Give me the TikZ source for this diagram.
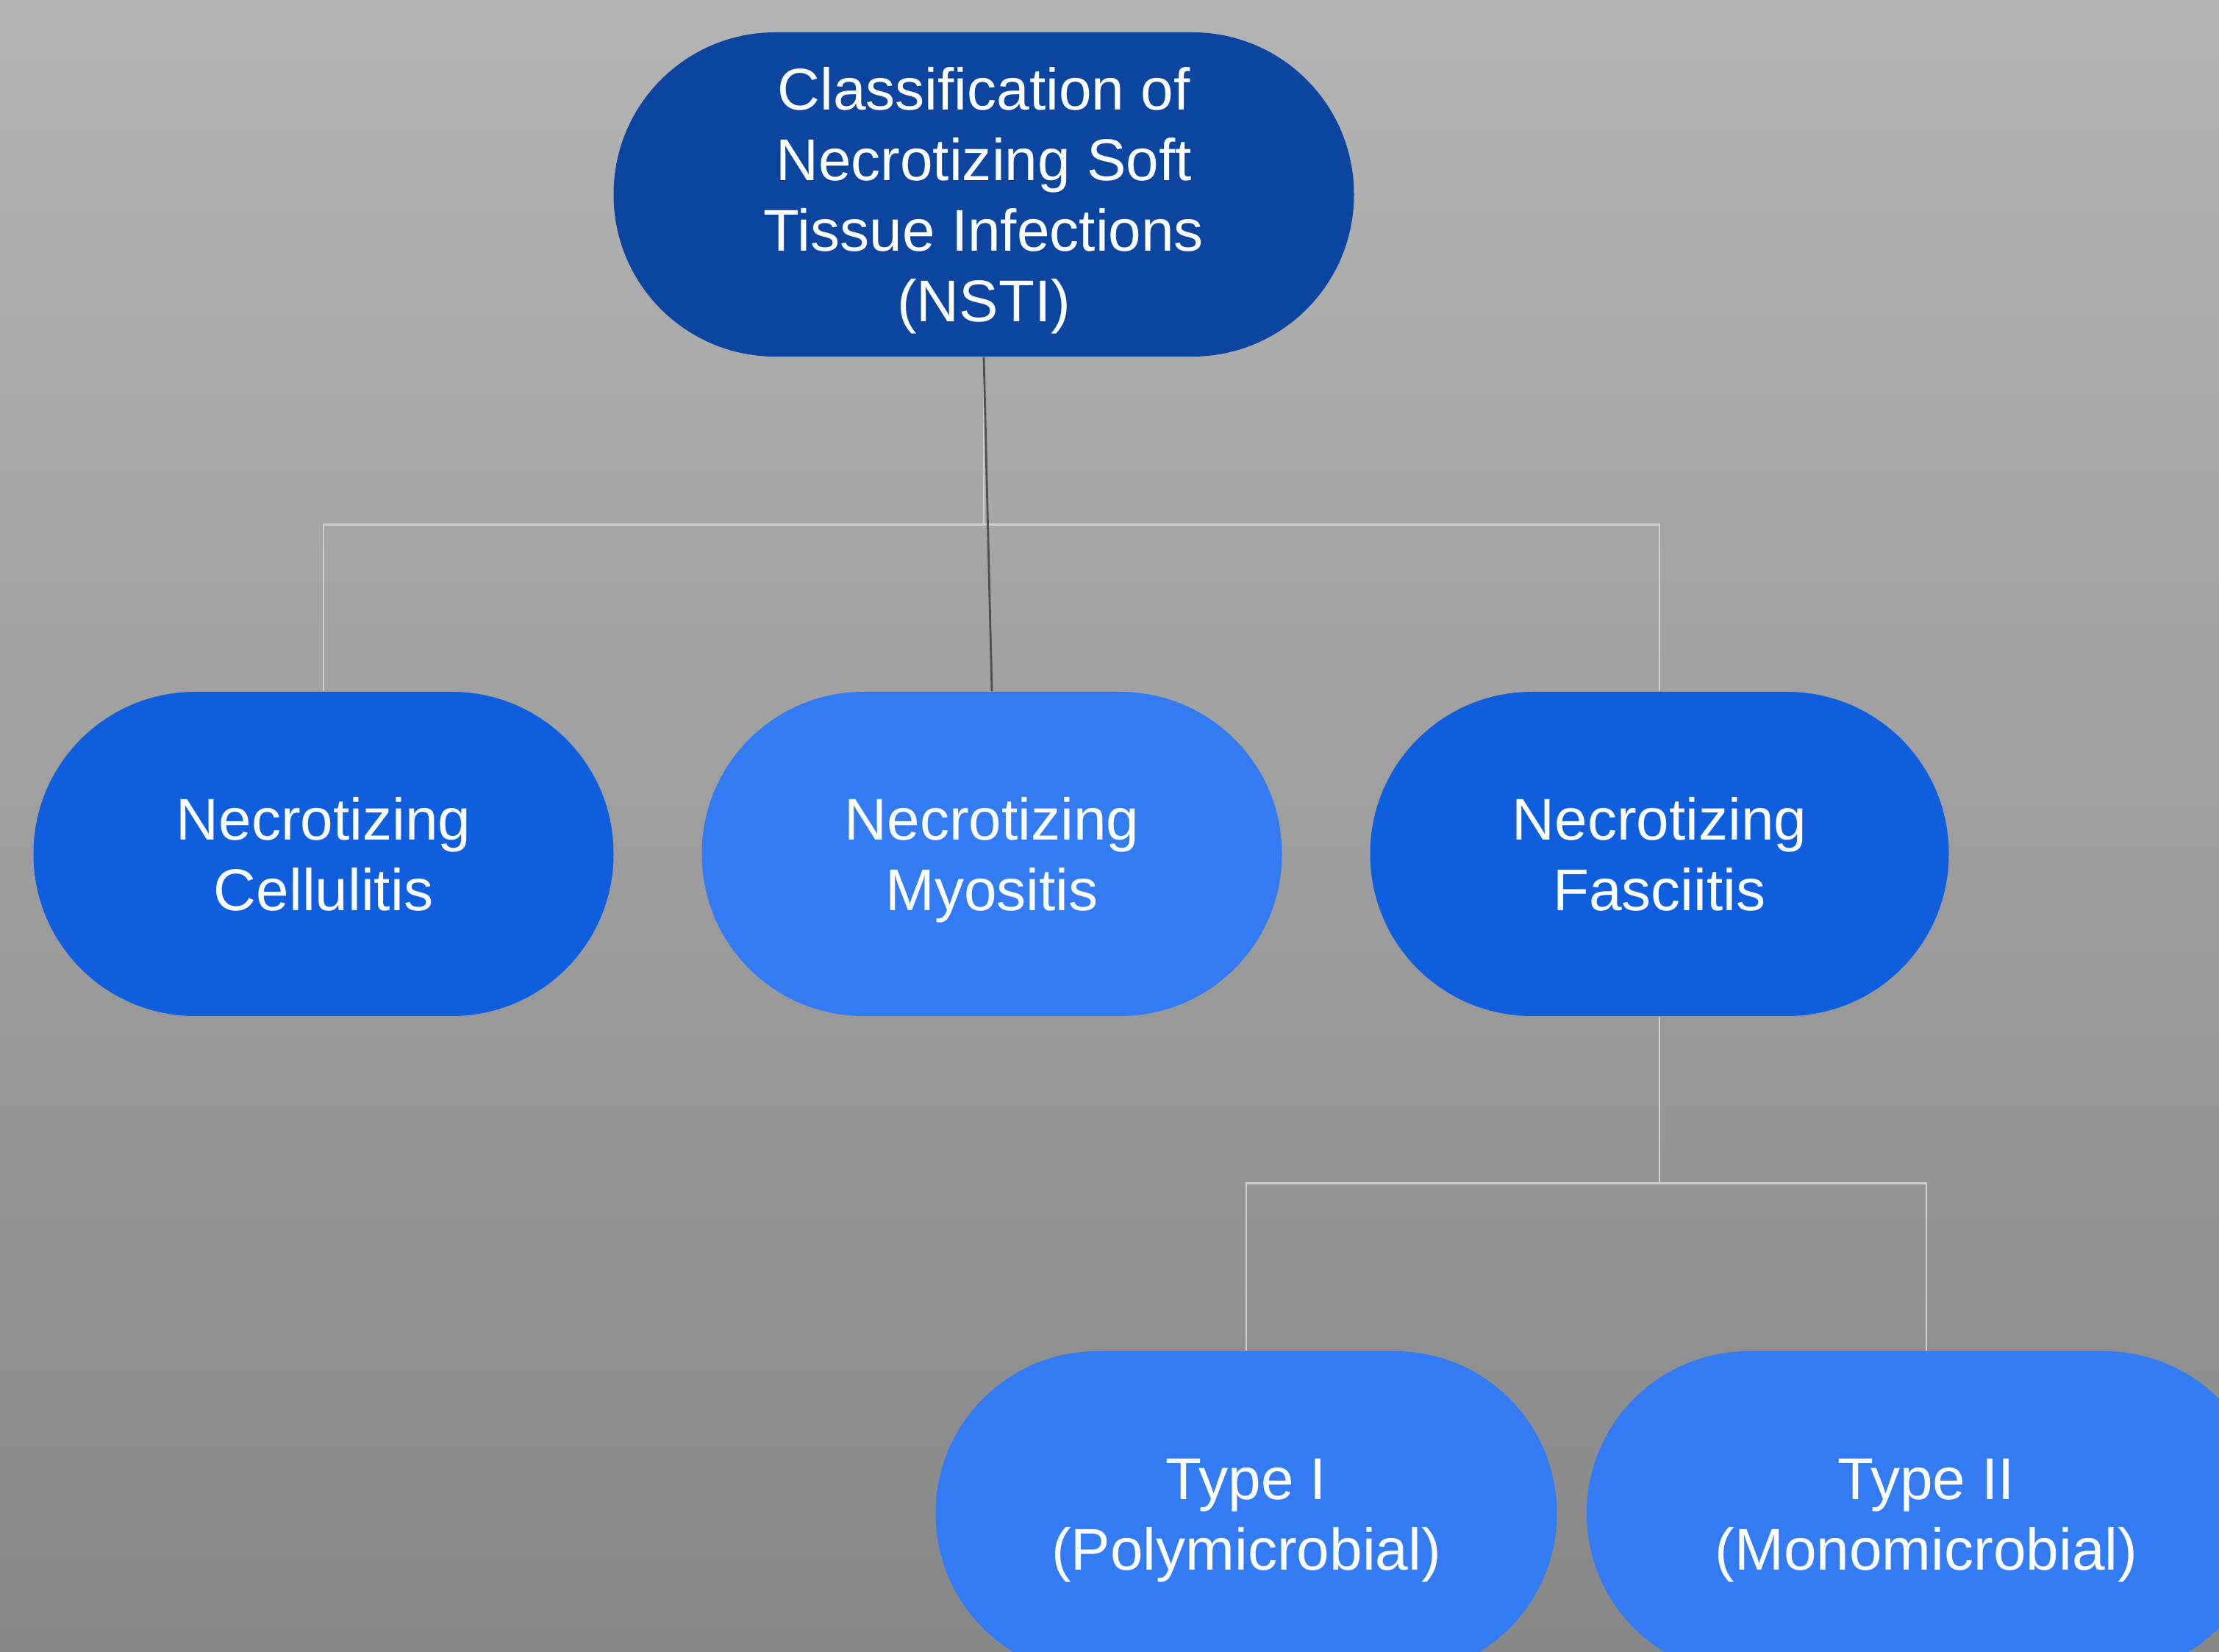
\documentclass[tikz,border=0pt]{standalone}
\usepackage{fontspec}
\setmainfont{Liberation Sans}
\usepackage{xcolor}
\usetikzlibrary{calc, positioning}

\definecolor{pillDark}{RGB}{11,69,160}
\definecolor{pillMid}{RGB}{14,94,222}
\definecolor{pillLight}{RGB}{50,123,242}
\definecolor{bgTop}{RGB}{180,180,180}
\definecolor{bgBottom}{RGB}{136,136,136}
\definecolor{linkLight}{RGB}{208,208,208}
\definecolor{linkDark}{RGB}{80,80,80}

\begin{document}
\begin{tikzpicture}[
    pill/.style={rectangle, rounded corners=2.2cm, minimum height=4.41cm,
        inner sep=0pt, align=center, text=white,
        font=\fontsize{22.8pt}{27.3pt}\selectfont},
    twolines/.style={text height=49.4pt, text depth=5.7pt},
    fourlines/.style={text height=104pt, text depth=5.7pt},
    link/.style={draw=linkLight, line width=0.8pt},
    linkdark/.style={draw=linkDark, line width=0.8pt}]
    % Nền
    \shade[top color=bgTop, bottom color=bgBottom] (0,0) rectangle (30.18,-22.47);
    \useasboundingbox (0,0) rectangle (30.18,-22.47);

    % Các nút
    \node[pill, fourlines, fill=pillDark, minimum width=10.07cm] (nsti) at (13.38,-2.645)
        {Classification of\\Necrotizing Soft\\Tissue Infections\\(NSTI)};
    \node[pill, twolines, fill=pillMid, minimum width=7.89cm] (cell) at (4.40,-11.615)
        {Necrotizing\\Cellulitis};
    \node[pill, twolines, fill=pillLight, minimum width=7.89cm] (myo) at (13.49,-11.615)
        {Necrotizing\\Myositis};
    \node[pill, twolines, fill=pillMid, minimum width=7.87cm] (fasc) at (22.57,-11.615)
        {Necrotizing\\Fasciitis};
    \node[pill, twolines, fill=pillLight, minimum width=8.45cm] (typeone) at (16.95,-20.585)
        {Type I\\(Polymicrobial)};
    \node[pill, twolines, fill=pillLight, minimum width=9.24cm] (typetwo) at (26.20,-20.585)
        {Type II\\(Monomicrobial)};

    % Đường nối
    \foreach \child in {cell, fasc} {
        \draw[link] (nsti.south) -- ++(0,-2.28) -| (\child.north);
    }
    \draw[linkdark] (nsti.south) -- (myo.north);
    \foreach \child in {typeone, typetwo} {
        \draw[link] (fasc.south) -- ++(0,-2.27) -| (\child.north);
    }
\end{tikzpicture}
\end{document}
